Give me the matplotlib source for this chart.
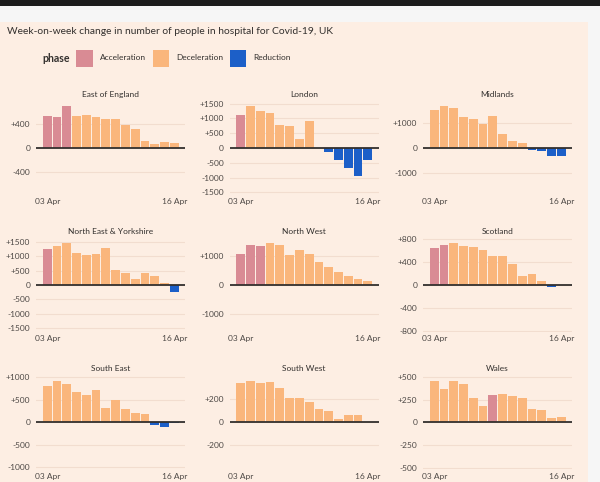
import matplotlib
matplotlib.use('Agg')
import matplotlib.pyplot as plt
from matplotlib.patches import Rectangle

plt.rcParams['font.family'] = ['Lato', 'DejaVu Sans']

# ---- data ----
dates = ['03 Apr', '04 Apr', '05 Apr', '06 Apr', '07 Apr', '08 Apr', '09 Apr',
         '10 Apr', '11 Apr', '12 Apr', '13 Apr', '14 Apr', '15 Apr', '16 Apr']

regions = ['East of England', 'London', 'Midlands',
           'North East & Yorkshire', 'North West', 'Scotland',
           'South East', 'South West', 'Wales']

east_of_england = [546, 513, 699, 535, 552, 513, 479, 479, 394, 327, 124, 68, 101, 90]
london = [1114, 1409, 1239, 1170, 773, 750, 295, 909, 0, -148, -409, -682, -943, -398]
midlands = [1493, 1653, 1573, 1240, 1160, 947, 1280, 560, 293, 200, -93, -120, -320, -307]
north_east_yorkshire = [1254, 1360, 1442, 1102, 1043, 1090, 1278, 527, 410, 211, 422, 317, 82, -234]
north_west = [1080, 1390, 1355, 1440, 1380, 1030, 1215, 1075, 782, 640, 465, 325, 210, 140]
scotland = [641, 694, 729, 676, 665, 618, 500, 512, 376, 165, 200, 76, -30, 6]
south_east = [813, 925, 858, 664, 612, 709, 328, 507, 306, 201, 194, -60, -97, -10]
south_west = [339, 359, 336, 348, 299, 214, 214, 174, 116, 101, 29, 61, 64, 0]
wales = [459, 366, 459, 422, 272, 183, 302, 313, 295, 269, 142, 134, 45, 60]

phase_east_of_england = list('AAADDDDDDDDDDD')
phase_london = list('ADDDDDDDDRRRRR')
phase_midlands = list('DDDDDDDDDDRRRR')
phase_north_east_yorkshire = list('ADDDDDDDDDDDDR')
phase_north_west = list('AAADDDDDDDDDDD')
phase_scotland = list('AADDDDDDDDDDRD')
phase_south_east = list('DDDDDDDDDDDRRR')
phase_south_west = list('DDDDDDDDDDDDDD')
phase_wales = list('DDDDDDADDDDDDD')

ticks_east_of_england = [-400, 0, 400]
ticks_london = [-1500, -1000, -500, 0, 500, 1000, 1500]
ticks_midlands = [-1000, 0, 1000]
ticks_north_east_yorkshire = [-1500, -1000, -500, 0, 500, 1000, 1500]
ticks_north_west = [-1000, 0, 1000]
ticks_scotland = [-800, -400, 0, 400, 800]
ticks_south_east = [-1000, -500, 0, 500, 1000]
ticks_south_west = [-200, 0, 200]
ticks_wales = [-500, -250, 0, 250, 500]

phase_names = ['Acceleration', 'Deceleration', 'Reduction']

# ---- style ----
PEACH = '#fdeee3'
GRAYBG = '#f6f6f6'
TEXT = '#33302e'
TICK = '#4d4845'
GRID = '#f2ddcf'
COLORS = {'A': '#d98b94', 'D': '#fab67c', 'R': '#1c5fc8'}

W, H = 600, 482
fig = plt.figure(figsize=(W / 100, H / 100), dpi=100)
fig.patch.set_facecolor(GRAYBG)

def fx(x):
    return x / W

def fy(y):
    return 1 - y / H

fig.add_artist(Rectangle((0, 0), fx(588), 460 / H, transform=fig.transFigure,
                         facecolor=PEACH, edgecolor='none', zorder=-10))
fig.add_artist(Rectangle((0, fy(6)), 1, 6 / H, transform=fig.transFigure,
                         facecolor='#1c1c1c', edgecolor='none', zorder=-10))

fig.text(fx(7), fy(32), 'Week-on-week change in number of people in hospital for Covid-19, UK',
         fontsize=7.4, color=TEXT, va='center', ha='left')

# legend
fig.text(fx(42), fy(58), 'phase', fontsize=7.6, color=TEXT, va='center', ha='left', fontweight='bold')
leg_sq_x = [76, 152.5, 229.5]
leg_tx_x = [100, 176, 253]
for code, name, sx, tx in zip('ADR', phase_names, leg_sq_x, leg_tx_x):
    fig.add_artist(Rectangle((fx(sx), fy(66.5)), 16.5 / W, 16.5 / H, transform=fig.transFigure,
                             facecolor=COLORS[code], edgecolor='none'))
    fig.text(fx(tx), fy(58), name, fontsize=6.0, color=TEXT, va='center', ha='left')

values_all = [east_of_england, london, midlands, north_east_yorkshire, north_west,
              scotland, south_east, south_west, wales]
phases_all = [phase_east_of_england, phase_london, phase_midlands, phase_north_east_yorkshire,
              phase_north_west, phase_scotland, phase_south_east, phase_south_west, phase_wales]
ticks_all = [ticks_east_of_england, ticks_london, ticks_midlands, ticks_north_east_yorkshire,
             ticks_north_west, ticks_scotland, ticks_south_east, ticks_south_west, ticks_wales]

col_left = [36, 229.5, 423]
row_top = [101, 238, 375.3]
ax_w, ax_h = 149, 94

def fmt(v):
    if v > 0:
        return '+%d' % v
    if v < 0:
        return '-%d' % abs(v)
    return '0'

for i, (name, vals, ph, tks) in enumerate(zip(regions, values_all, phases_all, ticks_all)):
    r, c = divmod(i, 3)
    ax = fig.add_axes([fx(col_left[c]), fy(row_top[r] + ax_h), ax_w / W, ax_h / H])
    ax.set_facecolor('none')
    x = list(range(len(dates)))
    ax.bar(x, vals, width=0.9, color=[COLORS[p] for p in ph], zorder=3)
    lim = 1.13 * max(abs(v) for v in vals)
    ax.set_ylim(-lim, lim)
    ax.set_xlim(-1.15, len(dates) - 1 + 1.1)
    ax.set_yticks(tks)
    ax.set_yticklabels([fmt(t) for t in tks])
    ax.set_xticks([0, len(dates) - 1])
    ax.set_xticklabels([dates[0], dates[-1]])
    ax.grid(axis='y', color=GRID, linewidth=0.8, zorder=0)
    ax.axhline(0, color=TEXT, linewidth=1.3, zorder=4)
    for s in ax.spines.values():
        s.set_visible(False)
    ax.tick_params(axis='both', length=0, labelsize=6, labelcolor=TICK)
    ax.tick_params(axis='y', pad=4)
    ax.tick_params(axis='x', pad=2.5)
    ax.set_title(name, fontsize=6.0, color=TEXT, pad=3)

fig.savefig('out.png', dpi=100, facecolor=fig.get_facecolor())
